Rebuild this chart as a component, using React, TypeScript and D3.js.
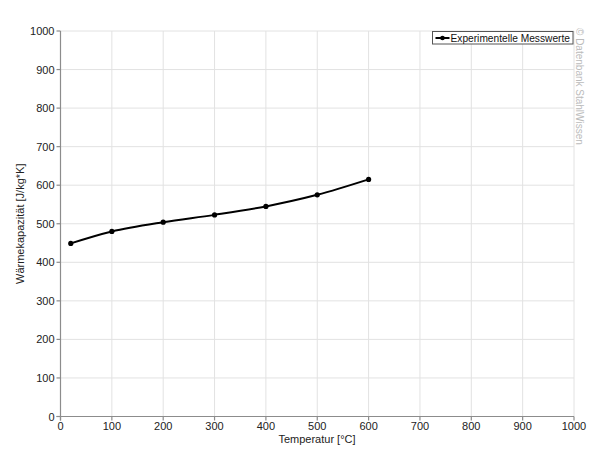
import React from 'react';
import { scaleLinear, line, curveCatmullRom } from 'd3';

const temperatures = [20, 100, 200, 300, 400, 500, 600];
const heatCapacity = [449, 480, 504, 523, 545, 575, 615];
const xTicks = [0, 100, 200, 300, 400, 500, 600, 700, 800, 900, 1000];
const yTicks = [0, 100, 200, 300, 400, 500, 600, 700, 800, 900, 1000];
const seriesName = 'Experimentelle Messwerte';

const W = 605;
const H = 466;
const margin = { left: 60.5, right: 31, top: 31, bottom: 49.5 };
const font = 'Liberation Sans, Arial, sans-serif';

export default function App() {
    const x = scaleLinear().domain([0, 1000]).range([margin.left, W - margin.right]);
    const y = scaleLinear().domain([0, 1000]).range([H - margin.bottom, margin.top]);

    const pts: [number, number][] = temperatures.map((t, i) => [x(t), y(heatCapacity[i])]);
    const path = line().curve(curveCatmullRom.alpha(0.5))(pts) || '';

    const legX = 432.5;
    const legY = 31.5;

    return (
        <svg width={W} height={H} style={{ position: 'absolute', left: 0, top: 0, background: '#fff' }}>
            {/* grid */}
            <g stroke="#e2e2e2" strokeWidth={1}>
                {xTicks.filter(t => t > 0).map(t => (
                    <line key={'gx' + t} x1={x(t)} x2={x(t)} y1={y(0)} y2={y(1000)} />
                ))}
                {yTicks.filter(t => t > 0).map(t => (
                    <line key={'gy' + t} x1={x(0)} x2={x(1000)} y1={y(t)} y2={y(t)} />
                ))}
            </g>
            {/* axes */}
            <g stroke="#8c8c8c" strokeWidth={1.2}>
                <line x1={x(0)} x2={x(0)} y1={y(0) + 4} y2={y(1000)} />
                <line x1={x(0) - 4} x2={x(1000)} y1={y(0)} y2={y(0)} />
                {xTicks.map(t => (
                    <line key={'tx' + t} x1={x(t)} x2={x(t)} y1={y(0)} y2={y(0) + 4} />
                ))}
                {yTicks.map(t => (
                    <line key={'ty' + t} x1={x(0) - 4} x2={x(0)} y1={y(t)} y2={y(t)} />
                ))}
            </g>
            <g fontFamily={font} fontSize={11} fill="#222">
                {xTicks.map(t => (
                    <text key={'lx' + t} x={x(t)} y={y(0) + 13} textAnchor="middle">{t}</text>
                ))}
                {yTicks.map(t => (
                    <text key={'ly' + t} x={x(0) - 6} y={y(t) + 4} textAnchor="end">{t}</text>
                ))}
                <text x={317} y={443} textAnchor="middle">Temperatur [°C]</text>
                <text transform={`translate(24,${y(500)}) rotate(-90)`} textAnchor="middle">Wärmekapazität [J/kg*K]</text>
            </g>
            {/* data */}
            <path d={path} fill="none" stroke="#000" strokeWidth={2} />
            {pts.map((p, i) => (
                <circle key={i} cx={p[0]} cy={p[1]} r={2.6} fill="#000" />
            ))}
            {/* legend */}
            <rect x={legX} y={legY} width={140.5} height={12.5} fill="#fff" stroke="#555" strokeWidth={1} />
            <line x1={legX + 3} x2={legX + 17} y1={legY + 6.5} y2={legY + 6.5} stroke="#000" strokeWidth={2} />
            <circle cx={legX + 10} cy={legY + 6.5} r={2.3} fill="#000" />
            <text x={legX + 18} y={legY + 10} fontFamily={font} fontSize={10.2} fill="#111">{seriesName}</text>
            {/* watermark */}
            <text transform="translate(576,28) rotate(90)" fontFamily={font} fontSize={10} fill="#bbb">© Datenbank StahlWissen</text>
        </svg>
    );
}
